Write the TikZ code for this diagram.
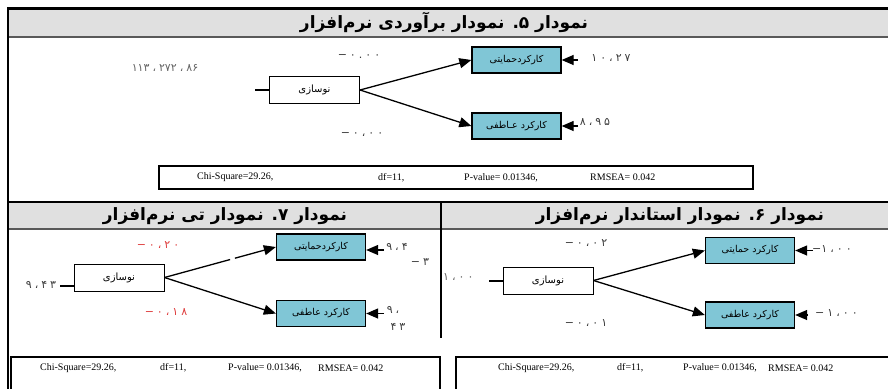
\documentclass[tikz,border=0pt]{standalone}
\usepackage{fontspec}
\setmainfont{Liberation Serif}
\newfontfamily\fa[Script=Arabic]{DejaVu Sans}
\newfontfamily\numf{DejaVu Sans}
\TeXXeTstate=1
\usetikzlibrary{arrows.meta}
\definecolor{boxblue}{RGB}{128,198,214}
\definecolor{bargray}{RGB}{224,224,224}
\definecolor{numred}{RGB}{222,60,60}
\definecolor{numgray}{RGB}{60,60,60}
\definecolor{numlight}{RGB}{100,100,100}
\begin{document}
\begin{tikzpicture}[x=1pt,y=-1pt,
  wbox/.style={draw, line width=1pt, fill=white, minimum width=90pt, minimum height=27pt, inner sep=0pt, font=\fa\fontsize{10}{12}\selectfont},
  bbox/.style={draw, line width=1.3pt, fill=boxblue, minimum width=89pt, minimum height=26pt, inner sep=0pt, font=\fa\fontsize{9.5}{11}\selectfont},
  conn/.style={line width=1.3pt, -{Triangle[length=12pt,width=10pt]}},
  stub/.style={line width=1.3pt},
  num/.style={font=\numf\fontsize{11}{12}\selectfont, inner sep=0pt},
  stat/.style={font=\fontsize{10}{12}\selectfont, anchor=west, inner sep=0pt},
  statbox/.style={draw, line width=1.3pt, inner sep=0pt},
  ttl/.style={font=\fa\bfseries\fontsize{17}{19}\selectfont, inner sep=0pt},
  barline/.style={line width=1.5pt},
  frameline/.style={line width=2.2pt}]
\useasboundingbox (0,0) rectangle (888,388);
% ---------- bars and frame ----------
\fill[bargray] (8,8) rectangle (895,37);
\fill[bargray] (8,202) rectangle (895,229);
\draw[line width=3pt] (7,8) -- (895,8);
\draw[barline, black!65] (8,37) -- (895,37);
\draw[barline] (8,202) -- (895,202);
\draw[barline, black!65] (8,229) -- (895,229);
\draw[frameline] (8,7) -- (8,395);
\draw[barline] (441,202) -- (441,338);
% ---------- titles ----------
\node[ttl] (t_title) at (444,22) {\beginR نمودار ۵. نمودار برآوردی نرم‌افزار\endR};
\node[ttl] (l_title) at (225,216) {\beginR نمودار ۷. نمودار تی نرم‌افزار\endR};
\node[ttl] (r_title) at (680,216) {\beginR نمودار ۶. نمودار استاندار نرم‌افزار\endR};
% ---------- top panel ----------
\node[wbox] (t_n) at (314.5,90) {\beginR نوسازی\endR};
\node[bbox] (t_h) at (516.5,60) {\beginR کارکردحمایتی\endR};
\node[bbox] (t_a) at (516.5,126) {\beginR کارکرد عـاطفی\endR};
\coordinate (t_s) at (255,90);
\draw[stub] (t_s) -- (t_n.west);
\draw[conn] (t_n.east) -- (t_h.west);
\draw[conn] (t_n.east) -- (t_a.west);
\coordinate (t_hr) at (578,60);
\coordinate (t_ar) at (578,126);
\draw[conn] (t_hr) -- (t_h.east);
\draw[conn] (t_ar) -- (t_a.east);
\node[num, text=numlight] (t_l1) at (165,68) {۱۱۳\kern3pt،\kern3pt۲۷۲\kern3pt،\kern3pt۸۶};
\node[num, text=numgray] (t_l2) at (359,57) {−\kern3pt۰\kern3pt.\kern3pt۰\kern3pt۰};
\node[num, text=numgray] (t_l3) at (362,135) {−\kern3pt۰\kern3pt،\kern3pt۰\kern3pt۰};
\node[num, text=numgray] (t_l4) at (611,58) {۱\kern3pt۰\kern3pt،\kern3pt۲\kern3pt۷};
\node[num, text=numgray] (t_l5) at (595,122) {۸\kern3pt،\kern3pt۹\kern3pt۵};
\node[statbox, minimum width=594pt, minimum height=23pt] (t_stat) at (456,177.5) {};
\node[stat] (t_c) at (197,177.5) {Chi-Square=29.26,};
\node[stat] (t_d) at (378,177.5) {df=11,};
\node[stat] (t_p) at (464,177.5) {P-value= 0.01346,};
\node[stat] (t_r) at (590,177.5) {RMSEA= 0.042};
% ---------- bottom left panel ----------
\node[wbox] (l_n) at (119,277.5) {\beginR نوسازی\endR};
\node[bbox] (l_h) at (321,247) {\beginR کارکردحمایتی\endR};
\node[bbox] (l_a) at (321,313.5) {\beginR کارکرد عاطفی\endR};
\coordinate (l_s) at (60,286);
\draw[stub] (l_s) -- (l_n.west |- l_s);
\draw[conn, dash pattern=on 68pt off 5pt on 200pt] (l_n.east) -- (l_h.west);
\draw[conn] (l_n.east) -- (l_a.west);
\coordinate (l_hr) at (384,250);
\coordinate (l_ar) at (384,313.5);
\draw[conn] (l_hr) -- (l_h.east |- l_hr);
\draw[conn] (l_ar) -- (l_a.east);
\node[num, text=numred] (l_l1) at (158,245) {−\kern3pt۰\kern3pt،\kern3pt۲\kern3pt۰};
\node[num, text=numred] (l_l2) at (166,312) {−\kern3pt۰\kern3pt،\kern3pt۱\kern3pt۸};
\node[num, text=numgray] (l_l3) at (41,285) {۹\kern3pt،\kern3pt۴\kern3pt۳};
\node[num, text=numgray] (l_l4) at (397,247) {۹\kern3pt،\kern3pt۴};
\node[num, text=numgray] (l_l5) at (420,262) {−\kern3pt۳};
\node[num, text=numgray] (l_l6) at (393,310) {۹\kern3pt،};
\node[num, text=numgray] (l_l7) at (398,327) {۴\kern3pt۳};
\node[statbox, minimum width=429pt, minimum height=50pt] (l_stat) at (225.5,382) {};
\node[stat] (l_c) at (40,368) {Chi-Square=29.26,};
\node[stat] (l_d) at (160,368) {df=11,};
\node[stat] (l_p) at (228,368) {P-value= 0.01346,};
\node[stat] (l_r) at (318,368) {RMSEA= 0.042};
% ---------- bottom right panel ----------
\node[wbox] (r_n) at (548,280.5) {\beginR نوسازی\endR};
\node[bbox] (r_h) at (750,250.5) {\beginR کارکرد حمایتی\endR};
\node[bbox] (r_a) at (750,315) {\beginR کارکرد عاطفی\endR};
\coordinate (r_s) at (489,281);
\draw[stub] (r_s) -- (r_n.west |- r_s);
\draw[conn] (r_n.east) -- (r_h.west);
\draw[conn] (r_n.east) -- (r_a.west);
\coordinate (r_hr) at (813,250.5);
\coordinate (r_ar) at (808,315);
\draw[conn] (r_hr) -- (r_h.east);
\draw[conn] (r_ar) -- (r_a.east);
\node[num, text=numlight, anchor=west] (r_l0) at (443,277) {۱\kern3pt،\kern3pt۰\kern3pt۰};
\node[num, text=numgray] (r_l1) at (586,243) {−\kern3pt۰\kern3pt،\kern3pt۰\kern3pt۲};
\node[num, text=numgray] (r_l2) at (586,323) {−\kern3pt۰\kern3pt،\kern3pt۰\kern3pt۱};
\node[num, text=numgray, anchor=west] (r_l3) at (812,249) {−۱\kern3pt،\kern3pt۰\kern3pt۰};
\node[num, text=numgray, anchor=west] (r_l4) at (815,313) {−\kern3pt۱\kern3pt،\kern3pt۰\kern3pt۰};
\node[statbox, minimum width=450pt, minimum height=50pt] (r_stat) at (681,382) {};
\node[stat] (r_c) at (498,368) {Chi-Square=29.26,};
\node[stat] (r_d) at (617,368) {df=11,};
\node[stat] (r_p) at (683,368) {P-value= 0.01346,};
\node[stat] (r_r) at (768,368) {RMSEA= 0.042};
\end{tikzpicture}
\end{document}
